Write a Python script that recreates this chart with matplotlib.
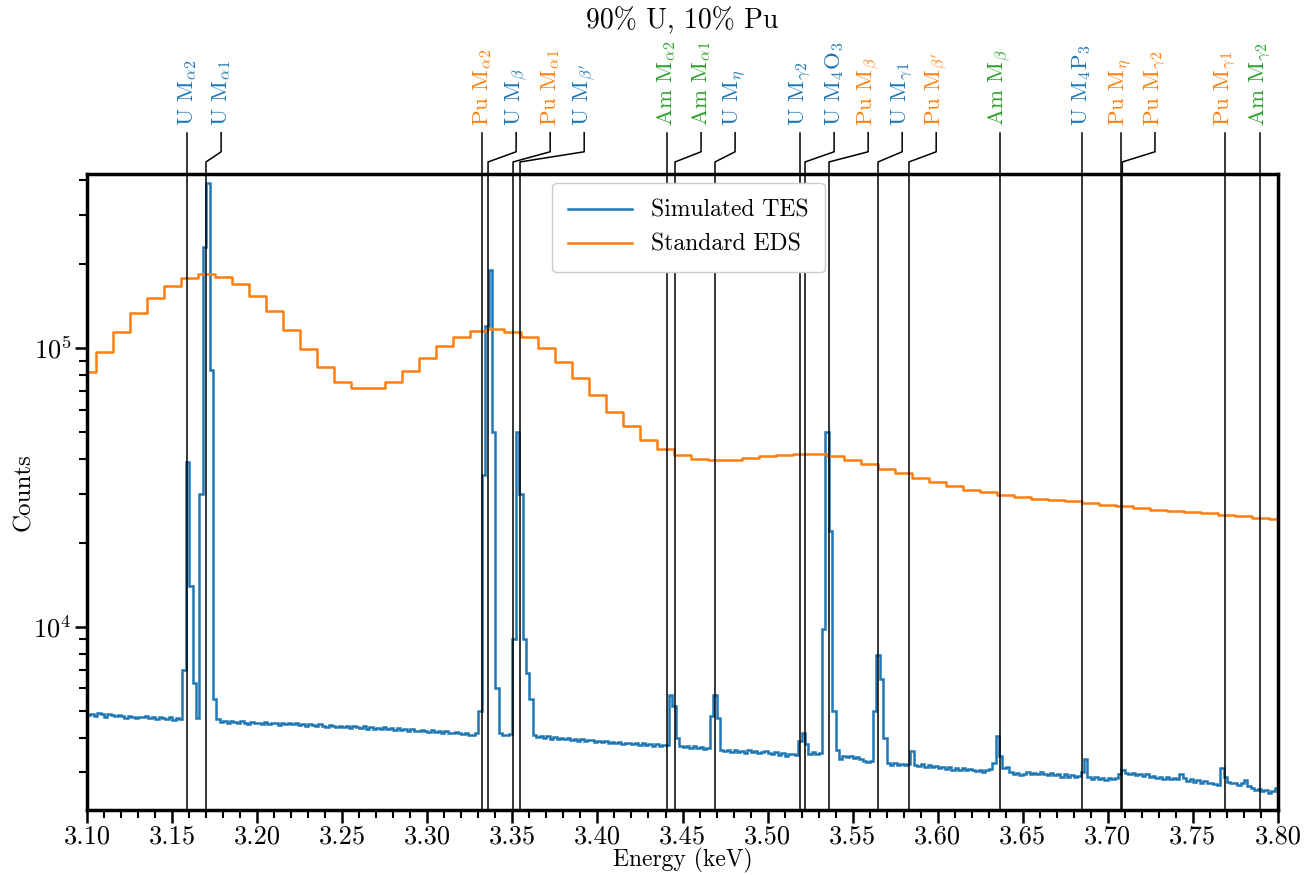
import numpy as np
import matplotlib
matplotlib.use("Agg")
import matplotlib.pyplot as plt
import matplotlib.transforms as mtransforms
from matplotlib.ticker import MultipleLocator, FormatStrFormatter, LogLocator, NullFormatter

plt.rcParams.update({
    "font.family": "serif",
    "font.serif": ["cmr10", "DejaVu Serif"],
    "mathtext.fontset": "cm",
    "axes.formatter.use_mathtext": True,
    "axes.unicode_minus": False,
})

# --- data ---
# simulated TES spectrum, 2 eV bins from 3.100 to 3.800 keV (one row = 20 eV)
tes_counts = [
    4820, 4870, 4790, 4900, 4850, 4760, 4880, 4810, 4770, 4830,
    4780, 4720, 4800, 4750, 4690, 4760, 4730, 4790, 4700, 4740,
    4680, 4750, 4700, 4660, 4730, 4640, 4700, 4670, 7000, 39000,
    14000, 6300, 4700, 30000, 230000, 390000, 83000, 5500, 4650, 4560,
    4580, 4520, 4600, 4540, 4500, 4570, 4530, 4480, 4550, 4510,
    4530, 4490, 4560, 4470, 4520, 4500, 4450, 4530, 4480, 4500,
    4460, 4510, 4440, 4490, 4420, 4470, 4430, 4400, 4460, 4410,
    4380, 4440, 4390, 4350, 4420, 4370, 4400, 4340, 4390, 4360,
    4330, 4390, 4310, 4360, 4290, 4340, 4300, 4350, 4280, 4320,
    4270, 4320, 4250, 4300, 4230, 4280, 4240, 4210, 4270, 4220,
    4200, 4250, 4180, 4230, 4160, 4210, 4170, 4140, 4190, 4150,
    4120, 4170, 4100, 4080, 4140, 5000, 35000, 120000, 190000, 50000,
    6000, 4150, 4100, 4080, 4120, 9000, 50000, 30000, 9000, 6800,
    5500, 4100, 4020, 4060, 3990, 4040, 3970, 4010, 3960, 4000,
    3950, 3990, 3920, 3960, 3900, 3940, 3880, 3930, 3910, 3870,
    3880, 3850, 3900, 3830, 3870, 3820, 3860, 3800, 3840, 3810,
    3800, 3830, 3770, 3810, 3750, 3790, 3740, 3780, 3730, 3760,
    3760, 5700, 5200, 4000, 3720, 3690, 3740, 3680, 3720, 3660,
    3700, 3650, 3680, 4800, 5700, 4700, 3600, 3580, 3620, 3560,
    3600, 3540, 3580, 3520, 3610, 3550, 3570, 3510, 3560, 3590,
    3530, 3490, 3550, 3470, 3510, 3450, 3490, 3480, 3460, 3900,
    4150, 3800, 3500, 3560, 3480, 3520, 9800, 50000, 22000, 5000,
    3600, 3350, 3440, 3400, 3450, 3380, 3420, 3350, 3300, 3260,
    3300, 5000, 7900, 6500, 4000, 3250, 3200, 3230, 3180, 3210,
    3180, 3220, 3580, 3200, 3170, 3210, 3150, 3190, 3130, 3170,
    3120, 3150, 3090, 3140, 3070, 3110, 3060, 3100, 3050, 3090,
    3060, 3030, 3070, 3020, 3050, 3080, 3250, 4050, 3450, 3100,
    3150, 3000, 2960, 2990, 2940, 2970, 3010, 2960, 2990, 2950,
    3000, 2970, 2940, 2980, 2930, 2960, 2900, 2950, 2890, 2930,
    2880, 2920, 3000, 3340, 2900, 2830, 2880, 2840, 2870, 2820,
    2860, 2830, 2870, 2950, 3060, 2980, 2950, 2990, 2930, 2960,
    2920, 2950, 2890, 2910, 2870, 2900, 2850, 2880, 2830, 2860,
    2840, 2950, 2870, 2800, 2830, 2780, 2810, 2760, 2790, 2740,
    2760, 2720, 2700, 3120, 2900, 2780, 2740, 2760, 2710, 2750,
    2820, 2690, 2640, 2600, 2620, 2570, 2590, 2540, 2580, 2640,
]

# standard EDS spectrum, 10 eV channels centred on 3.10 ... 3.80 keV
eds_energy = [round(3.10 + 0.01 * i, 2) for i in range(71)]
eds_counts = [
    81600, 96500, 113800, 133200, 151500, 167200, 178200, 183700, 180100, 170000,
    154000, 135400, 116000, 99200, 85300, 75700, 71700, 71700, 75700, 82900,
    92100, 101100, 109200, 115100, 116700, 114400, 109200, 99750, 89300, 77900,
    67860, 59100, 52240, 46800, 43340, 41350, 40010, 39680, 39680, 40240,
    40770, 41350, 41590, 41590, 40770, 39680, 38390, 36840, 35550, 34120,
    32900, 31830, 30970, 30290, 29720, 29160, 28750, 28510, 28120, 27750,
    27360, 26980, 26620, 26260, 26040, 25760, 25550, 25190, 24840, 24580,
    24400,
]

# emission lines
line_elements = ["U", "U", "Pu", "U", "Pu", "U", "Am", "Am", "U", "U",
                 "U", "Pu", "U", "Pu", "Am", "U", "Pu", "Pu", "Pu", "Am"]
line_names = [r"$\mathrm{M}_{\alpha2}$", r"$\mathrm{M}_{\alpha1}$",
              r"$\mathrm{M}_{\alpha2}$", r"$\mathrm{M}_{\beta}$",
              r"$\mathrm{M}_{\alpha1}$", r"$\mathrm{M}_{\beta'}$",
              r"$\mathrm{M}_{\alpha2}$", r"$\mathrm{M}_{\alpha1}$",
              r"$\mathrm{M}_{\eta}$", r"$\mathrm{M}_{\gamma2}$",
              r"$\mathrm{M}_4\mathrm{O}_3$", r"$\mathrm{M}_{\beta}$",
              r"$\mathrm{M}_{\gamma1}$", r"$\mathrm{M}_{\beta'}$",
              r"$\mathrm{M}_{\beta}$", r"$\mathrm{M}_4\mathrm{P}_3$",
              r"$\mathrm{M}_{\eta}$", r"$\mathrm{M}_{\gamma2}$",
              r"$\mathrm{M}_{\gamma1}$", r"$\mathrm{M}_{\gamma2}$"]
line_energies = [3.1588, 3.1699, 3.3322, 3.3357, 3.3504, 3.3545, 3.4409, 3.4456,
                 3.4691, 3.5191, 3.5220, 3.5361, 3.5649, 3.5831, 3.6366, 3.6848,
                 3.7077, 3.7085, 3.7689, 3.7895]

element_colors = {"U": "#1f77b4", "Pu": "#ff7f0e", "Am": "#2ca02c"}

# --- figure ---
fig = plt.figure(figsize=(13.07, 8.75), dpi=100)
ax = fig.add_axes([0.0666, 0.0743, 0.9112, 0.7268])

edges = np.linspace(3.1, 3.8, len(tes_counts) + 1)
ax.stairs(tes_counts, edges, baseline=None, color="#1f77b4", lw=1.8,
          label="Simulated TES", zorder=2)
ax.step(eds_energy, eds_counts, where="mid", color="#ff7f0e", lw=1.8,
        label="Standard EDS", zorder=2)

ax.set_yscale("log")
ax.set_xlim(3.1, 3.8)
ax.set_ylim(2.2e3, 4.2e5)

# line markers + staggered labels above the axes
trans = mtransforms.blended_transform_factory(ax.transData, ax.transAxes)
min_sep = 0.02
prev = -np.inf
for el, name, e in zip(line_elements, line_names, line_energies):
    lab = max(e, prev + min_sep)
    prev = lab
    ax.axvline(e, color="k", lw=1.1, zorder=3)
    ax.plot([e, e, lab, lab], [1.0, 1.019, 1.035, 1.065], color="k", lw=1.1,
            transform=trans, clip_on=False)
    ax.text(lab, 1.075, el + " " + name, rotation=90, ha="center", va="bottom",
            color=element_colors[el], fontsize=16.5, transform=trans)

ax.xaxis.set_major_locator(MultipleLocator(0.05))
ax.xaxis.set_minor_locator(MultipleLocator(0.01))
ax.xaxis.set_major_formatter(FormatStrFormatter("%.2f"))
ax.yaxis.set_minor_locator(LogLocator(base=10, subs=np.arange(2, 10)))
ax.yaxis.set_minor_formatter(NullFormatter())

ax.tick_params(which="major", direction="out", length=9, width=1.8, labelsize=19,
               pad=2)
ax.tick_params(which="minor", direction="out", length=6, width=1.5)
for sp in ax.spines.values():
    sp.set_linewidth(2.5)

ax.set_xlabel("Energy (keV)", fontsize=17, labelpad=-1)
ax.set_ylabel("Counts", fontsize=18, labelpad=-1)

leg = ax.legend(loc="upper center", fontsize=17, fancybox=True, framealpha=1,
                edgecolor="#cccccc", handlelength=2.7, borderpad=0.7,
                bbox_to_anchor=(0.505, 1.004))

fig.text(0.522, 0.992, "90% U, 10% Pu", ha="center", va="top", fontsize=20)

fig.savefig("out.png", dpi=100)
